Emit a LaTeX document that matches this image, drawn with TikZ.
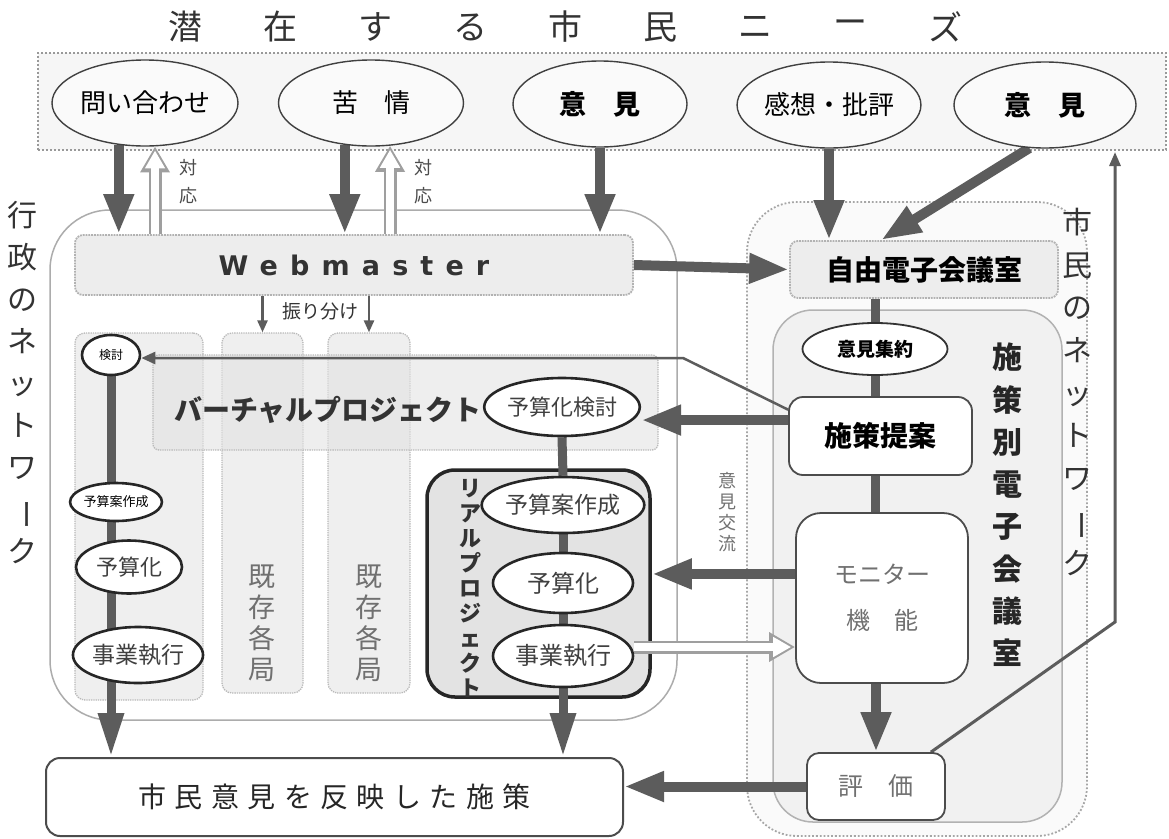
\documentclass[tikz,border=0pt]{standalone}
\usepackage{fontspec}
\setmainfont{Noto Sans CJK JP}
\newfontfamily\wmfont[LetterSpace=45]{DejaVu Sans}
\usetikzlibrary{shapes.geometric,arrows.meta,calc}
\pgfdeclarelayer{back}
\pgfdeclarelayer{conn}
\pgfsetlayers{back,conn,main}
\newcommand\myfs[1]{\fontsize{#1}{#1}\selectfont}
\newcommand\vbar{\rotatebox[origin=c]{-90}{ー}}
\definecolor{arr}{HTML}{5C5C5C}
\definecolor{txtgray}{HTML}{707070}
\begin{document}
\begin{tikzpicture}[x=1pt,y=-1pt,
  rbox/.style={rectangle, inner sep=0pt, anchor=center},
  bandbox/.style={rbox, draw=gray!80, dotted, line width=2pt, fill=gray!7},
  govbox/.style={rbox, draw=gray!65, line width=1.5pt, rounded corners=60pt},
  netbox/.style={rbox, draw=gray!70, dotted, line width=1.8pt, fill=gray!4, rounded corners=50pt},
  shisbox/.style={rbox, draw=gray!60, line width=1.5pt, fill=gray!11, rounded corners=40pt},
  colbox/.style={rbox, draw=gray!55, densely dotted, line width=1.3pt, fill=gray!16, fill opacity=0.8, rounded corners=10pt},
  vbbox/.style={rbox, draw=gray!55, densely dotted, line width=1.3pt, fill=gray!22, fill opacity=0.6, rounded corners=6pt},
  wmbox/.style={rbox, draw=gray!60, densely dotted, line width=1.8pt, fill=gray!14, rounded corners=8pt},
  rpbox/.style={rbox, draw=black!85, line width=3.5pt, fill=gray!22, rounded corners=28pt},
  topell/.style={ellipse, draw=black!75, line width=1.4pt, fill=gray!4, inner sep=0pt, minimum height=86pt},
  ell/.style={ellipse, draw=black!85, line width=2.6pt, fill=white, inner sep=0pt},
  wbox/.style={rbox, draw=black!70, line width=1.8pt, fill=white},
  fat/.style={draw=arr, line width=10pt, -{Triangle[width=28pt,length=40pt]}},
  fatdown/.style={draw=arr, line width=9pt, -{Triangle[width=24pt,length=44pt]}},
  fatline/.style={draw=arr, line width=9pt},
  thinarr/.style={draw=arr, line width=2.5pt, -{Triangle[width=12pt,length=14pt]}},
  holout/.style={draw=gray!75, line width=13pt, -{Triangle[width=28pt,length=26pt]}},
  holin/.style={draw=white, line width=8pt, shorten >=4pt, -{Triangle[width=19pt,length=18pt]}},
  vtext/.style={align=center, inner sep=0pt},
]
\useasboundingbox (0,0) rectangle (1169,838);

% ---------- background regions ----------
\begin{pgfonlayer}{back}
\fill[white] (0,0) rectangle (1169,838);
\node[bandbox, minimum width=1128pt, minimum height=97pt] (band) at (602,101.5) {};
\node[govbox, minimum width=627pt, minimum height=510pt] (gov) at (363.5,465) {};
\node[netbox, minimum width=340pt, minimum height=634pt] (citnet) at (917,519) {};
\node[shisbox, minimum width=289pt, minimum height=512pt] (shis) at (917.5,566) {};
\node[colbox, minimum width=128pt, minimum height=367pt] (c0) at (139,516.5) {};
\node[colbox, minimum width=81pt, minimum height=360pt] (c1) at (262.5,513) {};
\node[colbox, minimum width=82pt, minimum height=360pt] (c2) at (369,513) {};
\node[vbbox, minimum width=505pt, minimum height=95pt] (vb) at (405.5,402.5) {};
\node[wmbox, minimum width=558pt, minimum height=60pt, text=black!80] (wm) at (354,265)
  {\wmfont\bfseries\myfs{27}Webmaster};
\node[wmbox, minimum width=268pt, minimum height=57pt, font=\bfseries\myfs{28}] (jy) at (924,269.5) {自由電子会議室};
\node[rpbox, minimum width=223pt, minimum height=227pt] (rp) at (538.5,583.5) {};
\end{pgfonlayer}

% ---------- title ----------
\foreach \ch [count=\i] in {潜,在,す,る,市,民,ニ,ー,ズ} {
  \node[inner sep=0pt, font=\myfs{34}, text=black!80] (title\i) at (185+95*\i-95,27) {\ch};
}

% ---------- top ellipses ----------
\node[topell, minimum width=186pt, font=\myfs{26}] (q1) at (145,103) {問い合わせ};
\node[topell, minimum width=185pt, font=\myfs{26}] (q2) at (371,103) {苦　情};
\node[topell, minimum width=174pt, font=\bfseries\myfs{27}] (q3) at (600,104) {意　見};
\node[topell, minimum width=182pt, font=\myfs{26}] (q4) at (829,105) {感想・批評};
\node[topell, minimum width=182pt, font=\bfseries\myfs{27}] (q5) at (1045,105) {意　見};

% ---------- vertical labels ----------
\node[vtext, font=\fontsize{30}{42}\selectfont, text=black!80] (govlabel) at (22,383)
  {行\\政\\の\\ネ\\ッ\\ト\\ワ\\\vbar\\ク};
\node[vtext, font=\fontsize{30}{42.6}\selectfont, text=black!80] (netlabel) at (1077,392)
  {市\\民\\の\\ネ\\ッ\\ト\\ワ\\\vbar\\ク};
\node[vtext, font=\bfseries\fontsize{30}{42.3}\selectfont, text=black!85] (shislabel) at (1007,505)
  {施\\策\\別\\電\\子\\会\\議\\室};
\node[vtext, font=\fontsize{27}{31}\selectfont, text=txtgray] (k1) at (262,623) {既\\存\\各\\局};
\node[vtext, font=\fontsize{27}{31}\selectfont, text=txtgray] (k2) at (369,623) {既\\存\\各\\局};
\node[vtext, font=\bfseries\fontsize{22}{25}\selectfont, text=black!80] (rplabel) at (470,588)
  {リ\\ア\\ル\\プ\\ロ\\ジ\\ェ\\ク\\ト};
\node[vtext, font=\fontsize{18}{21}\selectfont, text=txtgray] (koryu) at (727,512) {意\\見\\交\\流};
\node[vtext, font=\fontsize{18}{28}\selectfont, text=black!70] (taio1) at (188,182) {対\\応};
\node[vtext, font=\fontsize{18}{28}\selectfont, text=black!70] (taio2) at (423,182) {対\\応};
\node[inner sep=1pt, font=\myfs{19}, text=black!80] (furi) at (320,311) {振り分け};
\node[inner sep=0pt, font=\bfseries\myfs{28}, text=black!80] (vblabel) at (328,410) {バーチャルプロジェクト};

% ---------- left column ellipses ----------
\node[ell, minimum width=58pt, minimum height=40pt, font=\myfs{12}] (l1) at (111,355) {検討};
\node[ell, minimum width=82pt, minimum height=38pt, font=\myfs{13}] (l2) at (116,502) {予算案作成};
\node[ell, minimum width=106pt, minimum height=53pt, font=\myfs{22}, text=black!75] (l3) at (129,567) {予算化};
\node[ell, minimum width=128pt, minimum height=56pt, font=\myfs{23}, text=black!75] (l4) at (138,655) {事業執行};

% ---------- real project ellipses ----------
\node[ell, minimum width=140pt, minimum height=58pt, font=\myfs{22}, text=black!75] (r1) at (562,407) {予算化検討};
\node[ell, minimum width=140pt, minimum height=56pt, font=\myfs{23}, text=black!75] (r2) at (563,505) {予算案作成};
\node[ell, minimum width=140pt, minimum height=60pt, font=\myfs{24}, text=black!75] (r3) at (563,583) {予算化};
\node[ell, minimum width=140pt, minimum height=62pt, font=\myfs{24}, text=black!75] (r4) at (563,656) {事業執行};

% ---------- right side boxes ----------
\node[ellipse, draw=black!80, line width=1.8pt, fill=white, inner sep=0pt, minimum width=145pt, minimum height=52pt, font=\bfseries\myfs{19}] (ik) at (875,349) {意見集約};
\node[wbox, minimum width=183pt, minimum height=78pt, rounded corners=14pt, font=\bfseries\myfs{28}] (sp) at (880.5,436) {施策提案};
\node[wbox, minimum width=172pt, minimum height=170pt, rounded corners=25pt, align=center, font=\fontsize{24}{46}\selectfont, text=txtgray] (mon) at (882,598) {モニター\\機　能};
\node[wbox, minimum width=138pt, minimum height=67pt, rounded corners=12pt, font=\myfs{25}, text=txtgray] (hy) at (876,786.5) {評　価};
\node[wbox, minimum width=577pt, minimum height=78pt, rounded corners=14pt, line width=2pt, font=\myfs{28}, text=black!85] (res) at (334.5,797)
  {\addfontfeature{LetterSpace=30}市民意見を反映した施策};

% ---------- connectors ----------
\begin{pgfonlayer}{conn}
% citizen needs to webmaster / e-conference
\draw[fat] (q1.238) -- (q1.238 |- wm.north);
\draw[fat] (q2.238) -- (q2.238 |- wm.north);
\draw[fat] (q3.south) -- (q3.south |- wm.north);
\draw[fat] (q4.south) -- (q4.south |- jy.north);
\draw[fat] (q5.250) -- ($(jy.north)+(-43,0)$);
% responses (hollow)
\draw[holout] (q1.283 |- wm.north) -- (q1.283);
\draw[holin]  (q1.283 |- wm.north) -- (q1.283);
\draw[holout] (q2.294 |- wm.north) -- (q2.294);
\draw[holin]  (q2.294 |- wm.north) -- (q2.294);
% webmaster
\draw[fat] (wm.east) -- (jy.west);
\draw[thinarr, -{Triangle[width=10pt,length=12pt]}] (c1.north |- wm.south) -- (c1.north);
\draw[thinarr, -{Triangle[width=10pt,length=12pt]}] (c2.north |- wm.south) -- (c2.north);
% e-conference chain
\draw[fatline] (ik.north |- jy.south) -- (ik.north);
\draw[fatline] (ik.south) -- (ik.south |- sp.north);
\draw[fatline] (sp.south -| ik.south) -- (mon.north -| ik.south);
\draw[fat] (mon.south -| hy.north) -- (hy.north);
\draw[fat] (hy.west) -- (hy.west -| res.east);
\coordinate (bend) at (1115,622);
\coordinate (nettop) at (1115,152);
\draw[draw=arr, line width=3pt, -{Triangle[width=11pt,length=14pt]}] ($(hy.north east)+(-15,0)$) -- (bend) -- (nettop);
% proposals to administration
\coordinate (kink) at (683,358);
\draw[thinarr] ($(sp.north west)!0.17!(sp.south west)$) -- (kink) -- (kink -| l1.east);
\coordinate (spout) at ($(sp.north west)!0.3!(sp.south west)$);
\draw[fat] (spout) -- (spout -| r1.east);
\coordinate (monout) at ($(mon.north west)!0.36!(mon.south west)$);
\draw[fat] (monout) -- (monout -| rp.east);
\coordinate (r4out) at ($(r4.east)+(0,-9)$);
\draw[holout] (r4out) -- (r4out -| mon.west);
\draw[holin]  (r4out) -- (r4out -| mon.west);
% real project chain
\draw[fatline] (r1.south) -- (r2.north);
\draw[fatline] (r2.south) -- (r3.north);
\draw[fatline] (r3.south) -- (r4.north);
\draw[fatdown] (r4.south) -- (r4.south |- res.north);
% virtual project chain
\draw[fatdown] (l1.south) -- (l1.south |- res.north);
\end{pgfonlayer}
\end{tikzpicture}
\end{document}
